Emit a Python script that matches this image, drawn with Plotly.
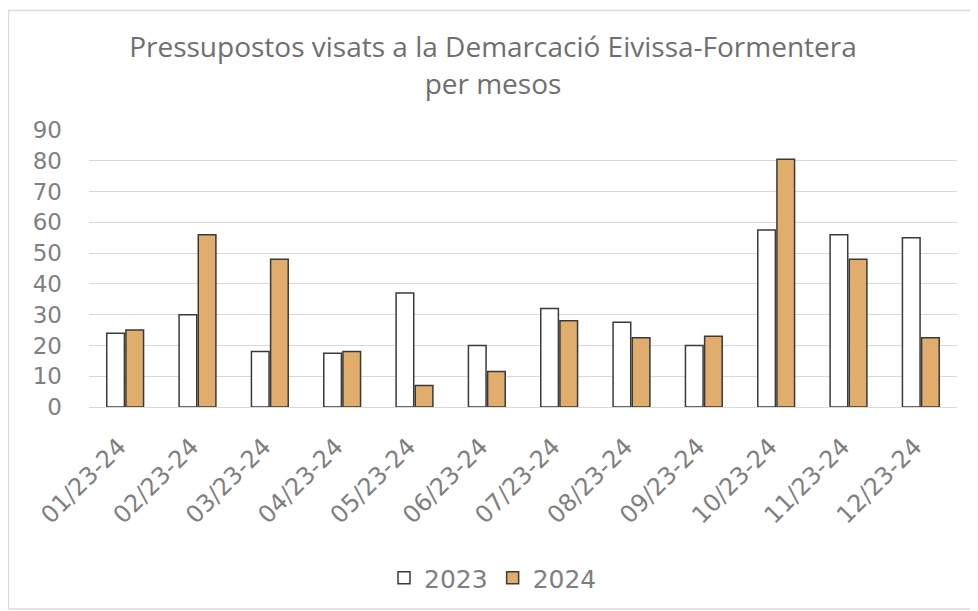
import plotly.graph_objects as go

months = ["01/23-24", "02/23-24", "03/23-24", "04/23-24", "05/23-24", "06/23-24",
          "07/23-24", "08/23-24", "09/23-24", "10/23-24", "11/23-24", "12/23-24"]
values_2023 = [24, 30, 18, 17.5, 37, 20, 32, 27.5, 20, 57.5, 56, 55]
values_2024 = [25, 56, 48, 18, 7, 11.5, 28, 22.5, 23, 80.5, 48, 22.5]
y_ticks = [0, 10, 20, 30, 40, 50, 60, 70, 80, 90]

TICKFONT = "DejaVu Sans"
TITLEFONT = "Open Sans"
GRAY = "#7f7f7f"

fig = go.Figure()
fig.add_trace(go.Bar(x=months, y=values_2023, name="2023",
                     marker=dict(color="white", line=dict(color="#3a3a3a", width=1.5))))
fig.add_trace(go.Bar(x=months, y=values_2024, name="2024",
                     marker=dict(color="#E0AD6C", line=dict(color="#3a3a3a", width=1.5))))

W, H = 970, 603
ml, mr, mt, mb = 81, 21, 122, 204
pw = W - ml - mr
ph = H - mt - mb
fig.update_layout(
    width=W, height=H,
    paper_bgcolor="white", plot_bgcolor="white",
    margin=dict(l=ml, r=mr, t=mt, b=mb, autoexpand=False),
    title=dict(text="Pressupostos visats a la Demarcació Eivissa-Formentera<br>per mesos",
               x=0.5, xanchor="center", y=0.918, yanchor="top",
               font=dict(family=TITLEFONT, size=28, color="#6f6f6f")),
    barmode="group", bargap=0.47, bargroupgap=0.08,
    showlegend=True,
    legend=dict(orientation="h", x=(493 - 89) / pw, xanchor="center", y=-171 / ph,
                yanchor="middle",
                font=dict(family=TICKFONT, size=25, color=GRAY), itemwidth=30),
    xaxis=dict(tickangle=-45, tickfont=dict(family=TICKFONT, size=24, color=GRAY),
               showgrid=False, showline=True, linecolor="#d9d9d9", linewidth=1,
               ticks="", ticklabelstandoff=15, ticklabelshift=-6),
    yaxis=dict(range=[0, 90], tickvals=y_ticks, showgrid=True, gridcolor="#d9d9d9",
               gridwidth=1, zeroline=False, ticks="", ticklabelstandoff=26,
               tickfont=dict(family=TICKFONT, size=23, color=GRAY)),
)

# chart frame border (left, top, bottom visible; right edge beyond the page)
x0 = (0.5 - ml) / pw
x1 = (W + 30 - ml) / pw
y0 = (2 - mb) / ph
y1 = (H - 2.5 - mb) / ph
fig.add_shape(type="rect", xref="paper", yref="paper", x0=x0, x1=x1, y0=y0, y1=y1,
              line=dict(color="#dcdcdc", width=1.5), fillcolor="rgba(0,0,0,0)", layer="below")

fig.write_html("out.html")
